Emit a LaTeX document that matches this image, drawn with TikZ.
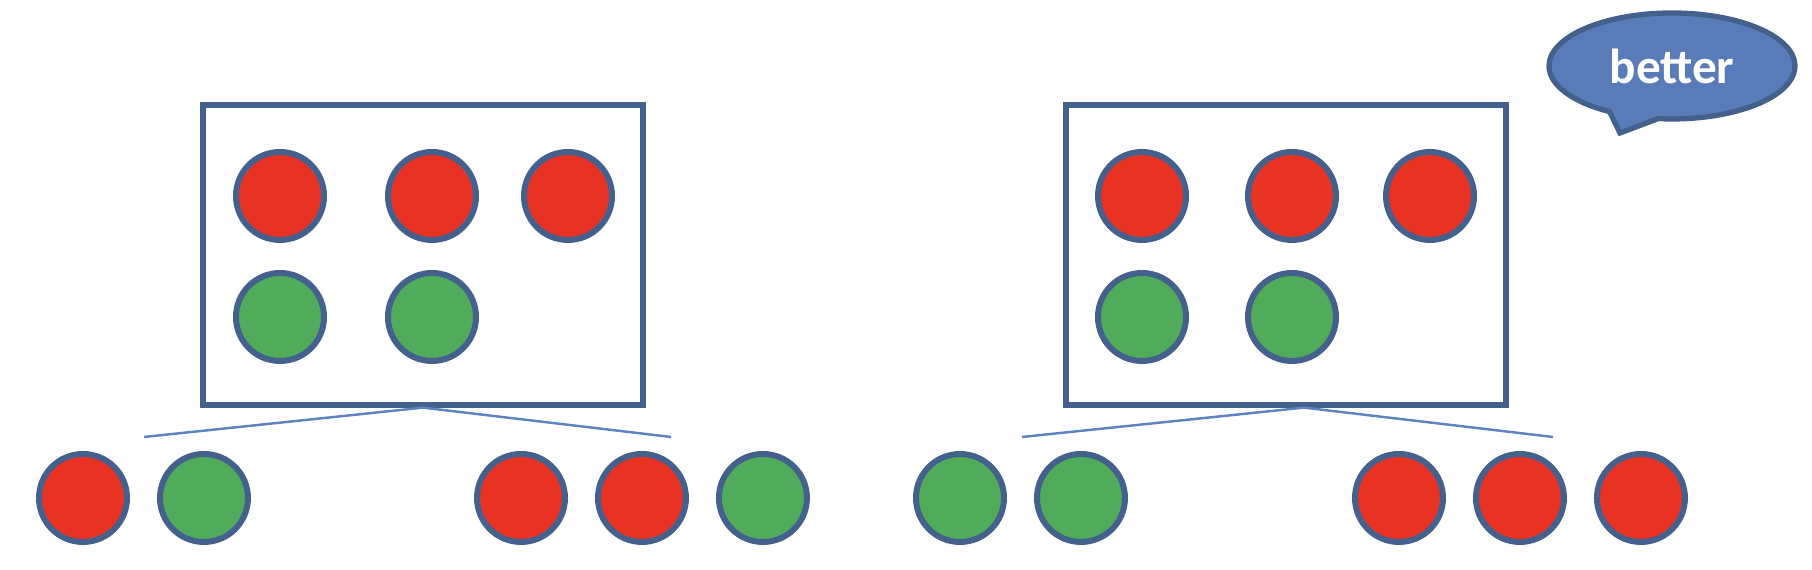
\documentclass[tikz,border=0pt]{standalone}
\usepackage{fontspec}
\newfontfamily\bubblefont{Carlito}
\usepackage{tikz}
\usetikzlibrary{positioning,shapes.callouts}

\definecolor{ballred}{RGB}{232,51,36}
\definecolor{ballgreen}{RGB}{80,172,90}
\definecolor{rimblue}{RGB}{68,96,140}
\definecolor{linkblue}{RGB}{95,130,192}
\definecolor{bubblefill}{RGB}{89,124,184}

\begin{document}
\begin{tikzpicture}[
  bag/.style={draw=rimblue, line width=1.5pt, minimum width=4.40cm,
              minimum height=3.00cm, inner sep=0pt},
  redball/.style={circle, draw=rimblue, line width=1.7pt, fill=ballred,
                  minimum size=0.88cm, inner sep=0pt},
  greenball/.style={redball, fill=ballgreen},
  split/.style={draw=linkblue, line width=0.7pt},
  node distance=2.7mm
]
\useasboundingbox (0,0) rectangle (18.12,5.70);

% left set
\node[bag] (boxA) at (4.23,3.15) {};
\node[redball] (a1) at (2.80,3.74) {};
\node[redball] (a2) at (4.32,3.74) {};
\node[redball] (a3) at (5.68,3.74) {};
\node[greenball] (a4) at (2.80,2.53) {};
\node[greenball] (a5) at (4.32,2.53) {};

% right set
\node[bag] (boxB) at (12.86,3.15) {};
\node[redball] (b1) at (11.42,3.74) {};
\node[redball] (b2) at (12.92,3.74) {};
\node[redball] (b3) at (14.30,3.74) {};
\node[greenball] (b4) at (11.42,2.53) {};
\node[greenball] (b5) at (12.92,2.53) {};

% split of the left set
\node[redball] (la1) at (0.83,0.72) {};
\node[greenball, right=of la1] (la2) {};
\node[redball] (ra1) at (5.21,0.72) {};
\node[redball, right=of ra1] (ra2) {};
\node[greenball, right=of ra2] (ra3) {};

% split of the right set
\node[greenball] (lb1) at (9.60,0.72) {};
\node[greenball, right=of lb1] (lb2) {};
\node[redball] (rb1) at (13.99,0.72) {};
\node[redball, right=of rb1] (rb2) {};
\node[redball, right=of rb2] (rb3) {};

\coordinate (endAl) at (1.44,1.33);
\coordinate (endAr) at (6.71,1.33);
\coordinate (endBl) at (10.22,1.33);
\coordinate (endBr) at (15.53,1.33);

\draw[split] (endAl) -- (boxA.south) -- (endAr);
\draw[split] (endBl) -- ([xshift=1.8mm]boxB.south) -- (endBr);

\node[ellipse callout, draw=rimblue, line width=1.5pt, fill=bubblefill,
      minimum width=2.46cm, minimum height=1.06cm, inner sep=0pt,
      callout absolute pointer={(16.20,4.37)}, callout pointer arc=24,
      text=white, font=\bubblefont\bfseries\fontsize{14}{16}\selectfont]
  (better) at (16.72,5.04) {better};
\end{tikzpicture}
\end{document}
